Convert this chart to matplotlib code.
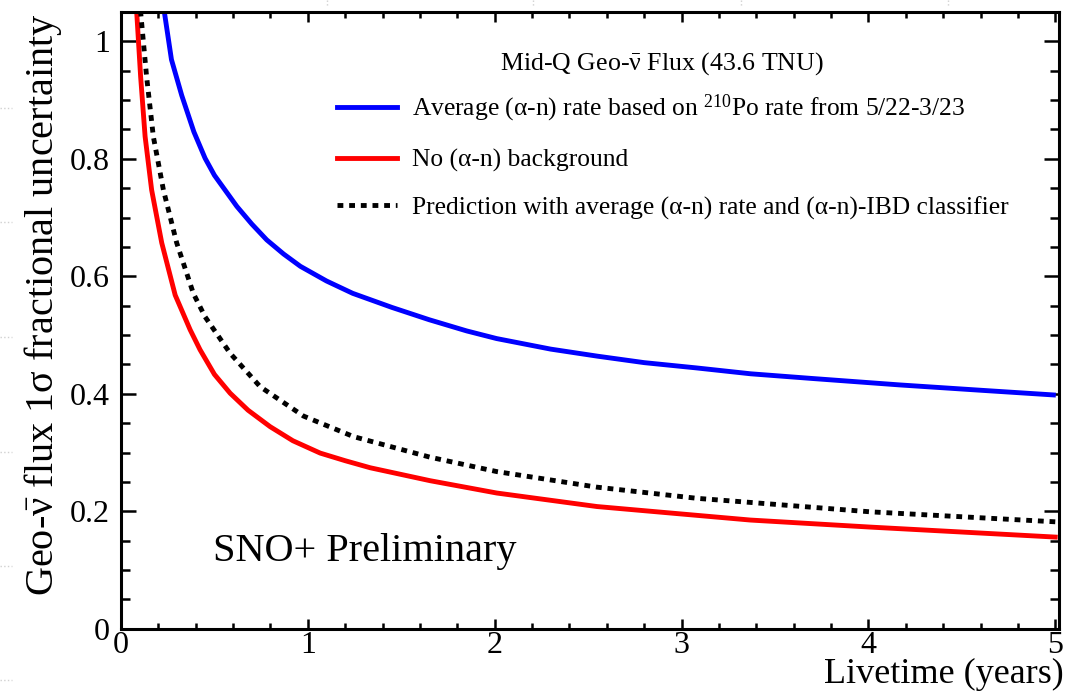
import matplotlib.pyplot as plt
from matplotlib.lines import Line2D
from matplotlib.ticker import MultipleLocator

plt.rcParams['font.family'] = ['Liberation Serif', 'DejaVu Serif']
plt.rcParams['mathtext.fontset'] = 'custom'
plt.rcParams['mathtext.rm'] = 'Liberation Serif'
plt.rcParams['mathtext.it'] = 'Liberation Serif:italic'
plt.rcParams['mathtext.bf'] = 'Liberation Serif:bold'

# livetime (years) vs fractional 1 sigma uncertainty on the geo-nu flux
t_avg = [0.21, 0.232, 0.27, 0.325, 0.39, 0.45, 0.50, 0.62, 0.70, 0.78, 0.87,
         0.96, 1.1, 1.24, 1.45, 1.65, 1.85, 2.01, 2.3, 2.55, 2.8, 3.08, 3.37,
         3.7, 4.17, 4.6, 4.99]
unc_avg = [1.10, 1.05, 0.969, 0.908, 0.846, 0.801, 0.772, 0.719, 0.689, 0.662,
           0.638, 0.617, 0.592, 0.571, 0.547, 0.526, 0.507, 0.494, 0.476, 0.464,
           0.453, 0.444, 0.434, 0.426, 0.415, 0.406, 0.398]

t_nobkg = [0.075, 0.084, 0.105, 0.129, 0.164, 0.218, 0.29, 0.37, 0.423, 0.50,
           0.584, 0.68, 0.798, 0.92, 1.066, 1.2, 1.334, 1.654, 2.011, 2.547,
           3.082, 3.368, 4.01, 5.0]
unc_nobkg = [1.10, 1.05, 0.940, 0.838, 0.747, 0.657, 0.568, 0.509, 0.475, 0.433,
             0.401, 0.372, 0.344, 0.320, 0.299, 0.286, 0.274, 0.252, 0.231,
             0.208, 0.193, 0.185, 0.173, 0.156]

t_pred = [0.092, 0.105, 0.137, 0.173, 0.227, 0.298, 0.387, 0.45, 0.584, 0.745,
          0.977, 1.245, 1.654, 2.011, 2.547, 3.082, 3.368, 4.01, 5.0]
unc_pred = [1.10, 1.05, 0.940, 0.838, 0.747, 0.657, 0.571, 0.531, 0.469, 0.412,
            0.362, 0.327, 0.292, 0.2675, 0.241, 0.222, 0.215, 0.199, 0.182]

x_ticks = [0, 1, 2, 3, 4, 5]
x_ticklabels = ['0', '1', '2', '3', '4', '5']
y_ticks = [0, 0.2, 0.4, 0.6, 0.8, 1.0]
y_ticklabels = ['0', '0.2', '0.4', '0.6', '0.8', '1']

nubar = r'$\bar{\mathrm{\nu}}$'
labels = [
    'Average (α-n) rate based on $^{210}$Po rate from 5/22-3/23',
    'No (α-n) background',
    'Prediction with average (α-n) rate and (α-n)-IBD classifier',
]

W, H = 1066, 693
fig = plt.figure(figsize=(W / 100, H / 100), dpi=100)
ax = fig.add_axes([121 / W, 1 - 628.7 / H, (1059 - 121) / W, (628.7 - 12) / H])

ax.plot(t_avg, unc_avg, color='#0000ff', lw=3.5, label=labels[0])
ax.plot(t_nobkg, unc_nobkg, color='#ff0000', lw=3.5, label=labels[1])
ax.plot(t_pred, unc_pred, color='black', lw=3.5, linestyle=(0, (1.2, 1.2)),
        dash_capstyle='butt', label=labels[2])

ax.set_xlim(0, 5.02)
ax.set_ylim(0, 1.05)
ax.set_xticks(x_ticks, x_ticklabels, fontsize=23)
ax.set_yticks(y_ticks, y_ticklabels, fontsize=23)
ax.xaxis.set_minor_locator(MultipleLocator(0.2))
ax.yaxis.set_minor_locator(MultipleLocator(0.05))
ax.tick_params(which='both', direction='in', top=True, right=True, width=1.8)
ax.tick_params(axis='y', which='major', length=11, pad=8)
ax.tick_params(axis='y', which='minor', length=6.5)
ax.tick_params(axis='x', which='major', length=7.5, pad=2)
ax.tick_params(axis='x', which='minor', length=4)
for s in ax.spines.values():
    s.set_linewidth(2.2)

# ROOT style axis titles
fig.text(53 / W, 1 - 305 / H, 'Geo-' + nubar + ' flux 1σ fractional uncertainty',
         rotation=90, rotation_mode='anchor', ha='center', va='baseline', fontsize=29)
fig.text(1064 / W, 1 - 683 / H, 'Livetime (years)', ha='right', va='baseline',
         fontsize=26)

fig.text(213 / W, 1 - 561 / H, 'SNO+ Preliminary', ha='left', va='baseline',
         fontsize=29)
fig.text(662 / W, 1 - 70 / H, 'Mid-Q Geo-' + nubar + ' Flux (43.6 TNU)',
         ha='center', va='baseline', fontsize=18.6)

ax.legend(loc='upper left', bbox_to_anchor=(337 / W, 1 - 93 / H),
          bbox_transform=fig.transFigure, frameon=False, fontsize=18.4,
          handlelength=2.35, handletextpad=0.59, labelspacing=0.95,
          borderpad=0, borderaxespad=0)

# faint slide grid marks around the plot
for yy in [108, 222, 337, 452, 566, 680]:
    fig.add_artist(Line2D([0, 12 / W], [1 - yy / H] * 2, color='#d0d0d0',
                          lw=1, linestyle=':', transform=fig.transFigure))
for xx in [327, 533, 741, 948]:
    fig.add_artist(Line2D([xx / W] * 2, [1, 1 - 6 / H], color='#d0d0d0',
                          lw=1, linestyle=':', transform=fig.transFigure))

fig.savefig('out.png', dpi=100)
